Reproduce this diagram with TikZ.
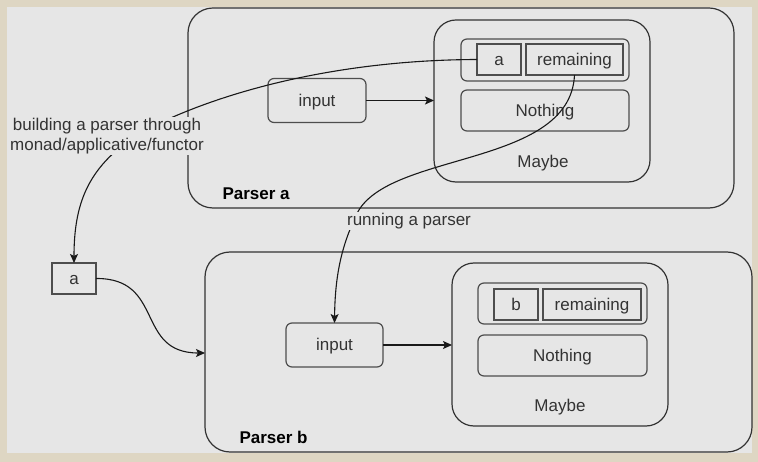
\documentclass[tikz,border=0pt]{standalone}
\usepackage{fontspec}
\setmainfont{Liberation Sans}
\usetikzlibrary{arrows.meta}
\definecolor{beige}{HTML}{DED6C3}
\definecolor{bggray}{HTML}{E6E6E6}
\definecolor{linec}{HTML}{333333}
\definecolor{innerc}{HTML}{4D4D4D}
\definecolor{txtc}{HTML}{333333}
\tikzset{
  base/.style={inner sep=0pt, outer sep=0pt, line width=1.2bp},
  outerbox/.style={base, draw=linec, rounded corners=25bp},
  maybebox/.style={base, draw=linec, rounded corners=22bp},
  rbox/.style={base, draw=innerc, rounded corners=6bp},
  sbox/.style={base, draw=innerc},
  txt/.style={font=\fontsize{17bp}{20bp}\selectfont, text=txtc},
  ctxt/.style={txt, text height=13.5bp, text depth=2bp},
  btxt/.style={font=\fontsize{17bp}{20bp}\selectfont\bfseries, text=black, text height=13.5bp, text depth=2bp},
  conn/.style={draw=black!90, line width=1.1bp},
  arr/.style={conn, -{Stealth[length=9bp,width=8bp,inset=2bp]}},
  lbl/.style={txt, fill=bggray, inner sep=1.5bp, align=center}
}
\begin{document}
\begin{tikzpicture}[x=1bp,y=-1bp]
\useasboundingbox (0,0) rectangle (758,462);
\fill[beige] (0,0) rectangle (758,462);
\fill[bggray] (7,7) rectangle (752,453);

% Parser a
\node[outerbox, minimum width=546bp, minimum height=200bp] (pa) at (461,108) {};
\node[btxt, anchor=west] (pal) at (219,193.5) {Parser a};
\node[maybebox, minimum width=216bp, minimum height=162bp] (ma) at (542,101) {};
\node[rbox, minimum width=168bp, minimum height=42bp] (ra) at (545,60) {};
\node[sbox, ctxt, minimum width=44bp, minimum height=31bp] (a1) at (499,59.5) {a};
\node[sbox, ctxt, minimum width=97bp, minimum height=31bp] (rema) at (574.5,59.5) {remaining};
\node[rbox, ctxt, minimum width=168bp, minimum height=41bp] (na) at (545,110.5) {Nothing};
\node[ctxt] (mla) at (543,162) {Maybe};
\node[rbox, ctxt, minimum width=98bp, minimum height=44bp] (ina) at (317,100.5) {input};

% Parser b
\node[outerbox, minimum width=547bp, minimum height=200bp] (pb) at (478.5,352) {};
\node[btxt, anchor=west] (pbl) at (236,437.5) {Parser b};
\node[maybebox, minimum width=216bp, minimum height=163bp] (mb) at (560,344.5) {};
\node[rbox, minimum width=169bp, minimum height=41bp] (rb) at (562.5,303.5) {};
\node[sbox, ctxt, minimum width=44bp, minimum height=31bp] (b1) at (516,304.5) {b};
\node[sbox, ctxt, minimum width=98bp, minimum height=31bp] (remb) at (592,304.5) {remaining};
\node[rbox, ctxt, minimum width=169bp, minimum height=41bp] (nb) at (562.5,355.5) {Nothing};
\node[ctxt] (mlb) at (560,406) {Maybe};
\node[rbox, ctxt, minimum width=97bp, minimum height=44bp] (inb) at (334.5,345) {input};

% small a
\node[sbox, ctxt, minimum width=44bp, minimum height=31bp] (sa) at (74,278.5) {a};

% connectors
\draw[arr] (ina.east) -- (ina.east -| ma.west);
\draw[arr] (inb.east) -- (inb.east -| mb.west);
\coordinate (m1) at (140,133);
\coordinate (m2) at (355,218);
\draw[arr] (a1.west) .. controls (330,60) and (210,95) .. (m1)
           .. controls (90,165) and (74,200) .. (sa.north);
\draw[arr] (rema.south) .. controls (570,170) and (380,150) .. (m2)
           .. controls (340,250) and (335,280) .. (inb.north);
\coordinate (pbw) at (pb.west |- 0,353);
\draw[arr] (sa.east) .. controls (165,278) and (135,353) .. (pbw);

% labels
\node[lbl] (lb1) at (107,136) {building a parser through\\monad/applicative/functor};
\node[lbl] (lb2) at (409,221) {running a parser};
\end{tikzpicture}
\end{document}
